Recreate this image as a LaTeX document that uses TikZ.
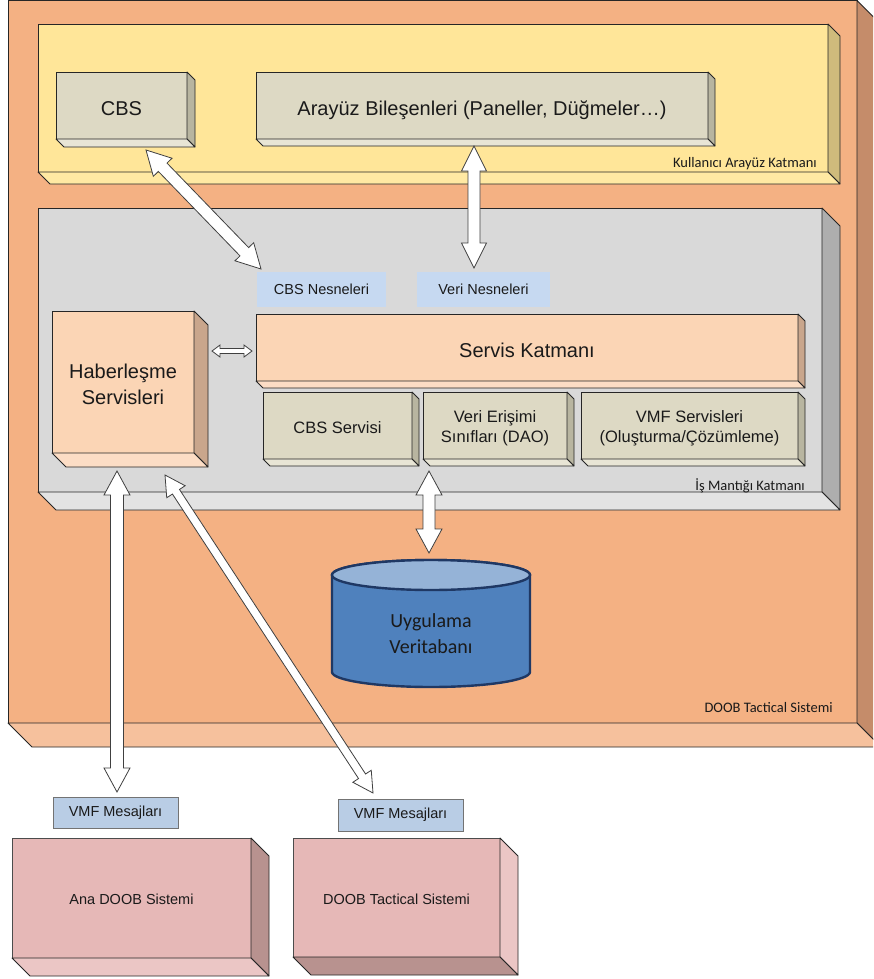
\documentclass[tikz,border=0pt]{standalone}
\usepackage{fontspec}
\setmainfont{Liberation Sans}
\newfontfamily\calfont{Carlito}
\usetikzlibrary{calc}
\definecolor{edgec}{HTML}{262626}
\definecolor{txtc}{HTML}{1A1A1A}
\definecolor{outF}{HTML}{F4B183}
\definecolor{outR}{HTML}{C58C6A}
\definecolor{outB}{HTML}{F6C19D}
\definecolor{yelF}{HTML}{FFE699}
\definecolor{yelR}{HTML}{CFBB7C}
\definecolor{yelB}{HTML}{FFE9A3}
\definecolor{olvF}{HTML}{DDD9C4}
\definecolor{olvR}{HTML}{B8B5A0}
\definecolor{olvB}{HTML}{E8E5D5}
\definecolor{gryF}{HTML}{D9D9D9}
\definecolor{gryR}{HTML}{AEAEAE}
\definecolor{gryB}{HTML}{E3E3E3}
\definecolor{pchF}{HTML}{FBD5B5}
\definecolor{pchR}{HTML}{C9A68C}
\definecolor{pchB}{HTML}{FCDDC5}
\definecolor{pnkF}{HTML}{E6B8B7}
\definecolor{pnkD}{HTML}{B8928F}
\definecolor{pnkL}{HTML}{EBC6C5}
\definecolor{lblue}{HTML}{C6D9F1}
\definecolor{mblue}{HTML}{B9CDE5}
\definecolor{dbbody}{HTML}{4F81BD}
\definecolor{dbtop}{HTML}{95B3D7}
\definecolor{dbedge}{HTML}{1F3864}
\newcommand{\sidefaces}[4]{%
  \filldraw[fill=#3, draw=edgec, line width=0.8pt, line join=round] (#1.north east) -- ++(#2,#2) -- ([shift={(#2,#2)}]#1.south east) -- (#1.south east) -- cycle;
  \filldraw[fill=#4, draw=edgec, line width=0.8pt, line join=round] (#1.south west) -- ++(#2,#2) -- ([shift={(#2,#2)}]#1.south east) -- (#1.south east) -- cycle;}
\newcommand{\barrow}[5]{%
  \filldraw[arr] (#1) -- ($(#1)!#5pt!(#2)!#4pt!90:(#2)$) -- ($(#1)!#5pt!(#2)!#3pt!90:(#2)$) -- ($(#2)!#5pt!(#1)!#3pt!-90:(#1)$) -- ($(#2)!#5pt!(#1)!#4pt!-90:(#1)$) -- (#2) -- ($(#2)!#5pt!(#1)!#4pt!90:(#1)$) -- ($(#2)!#5pt!(#1)!#3pt!90:(#1)$) -- ($(#1)!#5pt!(#2)!#3pt!-90:(#2)$) -- ($(#1)!#5pt!(#2)!#4pt!-90:(#2)$) -- cycle;}
\tikzset{
  box/.style={rectangle, draw=edgec, line width=0.8pt, inner sep=0pt, outer sep=0pt, anchor=north west, align=center, text=txtc},
  bigtxt/.style={font=\fontsize{20}{26}\selectfont},
  bigone/.style={font=\fontsize{20}{26}\selectfont, text height=20pt, text depth=0pt},
  midtxt/.style={font=\fontsize{16.5}{20.5}\selectfont},
  midone/.style={font=\fontsize{16.5}{20.5}\selectfont, text height=15pt, text depth=0pt},
  smtxt/.style={font=\fontsize{14.5}{18}\selectfont, text height=13pt, text depth=0pt},
  layerlbl/.style={font=\calfont\fontsize{14.5}{18}\selectfont, text=txtc, inner sep=0pt, anchor=base east},
  tag/.style={rectangle, fill=lblue, inner sep=0pt, outer sep=0pt, anchor=north west, text=txtc, font=\fontsize{14.5}{18}\selectfont},
  msg/.style={rectangle, fill=mblue, draw=black!55, line width=0.8pt, inner sep=0pt, outer sep=0pt, anchor=north west, text=txtc, font=\fontsize{14.5}{18}\selectfont},
  arr/.style={fill=white, draw=black!75, line width=0.8pt, line join=miter}
}
\begin{document}
\begin{tikzpicture}[x=1pt,y=-1pt]
\useasboundingbox (0,0) rectangle (873,979);
\clip (0,0) rectangle (873,979);
\fill[white] (0,0) rectangle (873,979);
% outer system box
\node[box, fill=outF, minimum width=849pt, minimum height=722.5pt] (doob) at (8,0.5) {};
\sidefaces{doob}{24}{outR}{outB}
\node[layerlbl] (doobl) at (833,712) {DOOB Tactical Sistemi};
% user interface layer
\node[box, fill=yelF, minimum width=790pt, minimum height=148pt] (kul) at (38,24) {};
\sidefaces{kul}{12}{yelR}{yelB}
\node[layerlbl] (kull) at (817,167) {Kullanıcı Arayüz Katmanı};
\node[box, fill=olvF, bigone, minimum width=131pt, minimum height=67pt] (cbs) at (56,72) {CBS};
\sidefaces{cbs}{8}{olvR}{olvB}
\node[box, fill=olvF, bigone, minimum width=452pt, minimum height=67pt] (ara) at (256,72) {Arayüz Bileşenleri (Paneller, Düğmeler…)};
\sidefaces{ara}{7}{olvR}{olvB}
% business logic layer
\node[box, fill=gryF, minimum width=784pt, minimum height=284pt] (is) at (38,208) {};
\sidefaces{is}{18}{gryR}{gryB}
\node[layerlbl] (isl) at (805,490) {İş Mantığı Katmanı};
\node[tag, minimum width=129pt, minimum height=35pt] (cbsn) at (257,272) {CBS Nesneleri};
\node[tag, minimum width=133pt, minimum height=35pt] (verin) at (417,272) {Veri Nesneleri};
\node[box, fill=pchF, bigone, minimum width=542pt, minimum height=67pt] (servis) at (256,314) {Servis Katmanı};
\sidefaces{servis}{7}{pchR}{pchB}
\node[box, fill=olvF, midone, minimum width=149pt, minimum height=67pt] (cbss) at (263,392) {CBS Servisi};
\sidefaces{cbss}{7}{olvR}{olvB}
\node[box, fill=olvF, midtxt, minimum width=144pt, minimum height=67pt] (dao) at (423,392) {\rule{0pt}{17pt}Veri Erişimi\\Sınıfları (DAO)};
\sidefaces{dao}{7}{olvR}{olvB}
\node[box, fill=olvF, midtxt, minimum width=217pt, minimum height=67pt] (vmfs) at (581,392) {\rule{0pt}{17pt}VMF Servisleri\\(Oluşturma/Çözümleme)};
\sidefaces{vmfs}{7}{olvR}{olvB}
\node[box, fill=pchF, bigtxt, minimum width=142pt, minimum height=142pt] (hab) at (52,311) {\rule{0pt}{19pt}Haberleşme\\Servisleri};
\sidefaces{hab}{14}{pchR}{pchB}
% database
\filldraw[fill=dbbody, draw=dbedge, line width=2.4pt] (332,575) -- (332,672) arc[start angle=180, end angle=360, x radius=99pt, y radius=15pt] -- (530,575) arc[start angle=0, end angle=180, x radius=99pt, y radius=15pt] -- cycle;
\filldraw[fill=dbtop, draw=dbedge, line width=2.4pt] (431,575) ellipse [x radius=99pt, y radius=15pt];
\node[inner sep=0pt, align=center, text=txtc, font=\calfont\fontsize{20}{26}\selectfont] (db) at (431,634) {Uygulama\\Veritabanı};
\coordinate (dbtopc) at (429,553);
% external systems
\node[msg, minimum width=125pt, minimum height=31pt] (vmfm1) at (53,797) {VMF Mesajları};
\node[msg, minimum width=125pt, minimum height=32pt] (vmfm2) at (338,799) {VMF Mesajları};
\node[box, fill=pnkF, draw=black!70, smtxt, minimum width=239pt, minimum height=120pt] (ana) at (12,838) {Ana DOOB Sistemi};
\sidefaces{ana}{18}{pnkD}{pnkL}
\node[box, fill=pnkF, draw=black!70, smtxt, minimum width=207pt, minimum height=119pt] (dt) at (293,838) {DOOB Tactical Sistemi};
\sidefaces{dt}{18}{pnkL}{pnkD}
% arrow end points
\coordinate (a1s) at (146,150);
\coordinate (a1e) at (261,269);
\coordinate (a2s) at (474,146);
\coordinate (a2e) at (474,268);
\coordinate (a3s) at (429,471);
\coordinate (a4s) at (117,471);
\coordinate (a4e) at (117,792);
\coordinate (a5s) at (165,475);
\coordinate (a5e) at (373,793);
\coordinate (a6s) at (212,351);
\coordinate (a6e) at (252,351);
% connectors
\barrow{a1s}{a1e}{6}{13}{24}
\barrow{a2s}{a2e}{6}{12.5}{25}
\barrow{a3s}{dbtopc}{6}{13}{24}
\barrow{a4s}{a4e}{6.5}{13}{24}
\barrow{a5s}{a5e}{4.2}{11}{20}
\barrow{a6s}{a6e}{2.5}{6}{8}
\end{tikzpicture}
\end{document}
